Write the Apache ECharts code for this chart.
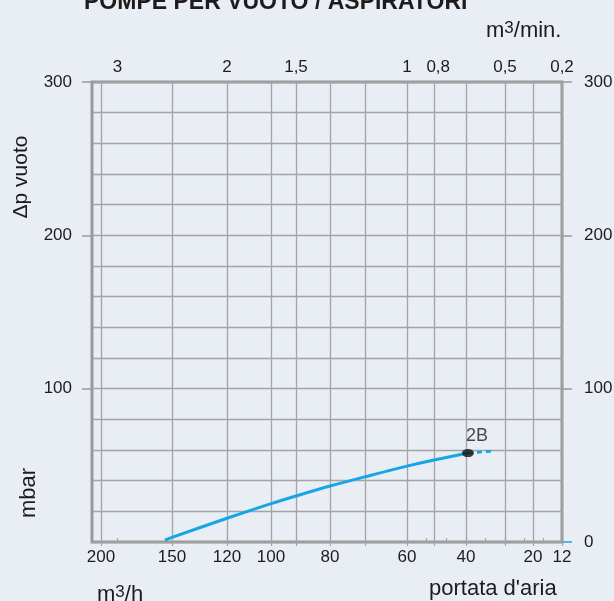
<!DOCTYPE html>
<html><head><meta charset="utf-8">
<script src="https://cdn.jsdelivr.net/npm/echarts@6/dist/echarts.min.js"></script>
<style>html,body{margin:0;padding:0;background:#e9eef5;}#c{width:614px;height:601px;}</style>
</head><body><div id="c"></div>
<script>
// ---------------- data ----------------
const chartTitle = 'POMPE PER VUOTO / ASPIRATORI';
// pump curve: air flow (m3/h) vs vacuum (mbar)
const flowM3h    = [155, 150, 120, 100, 90, 80, 70, 60, 50, 39.5];
const vacuumMbar = [1.2, 3, 15.5, 25, 30, 36.5, 42.5, 49.5, 53.5, 58];
// marked working point
const pointName = '2B';
const pointFlow = [39.5];
const pointVac  = [58];
// dashed continuation after the point
const extFlow = [39.5, 33];
const extVac  = [58, 59.3];
// axis ticks / labels
const bottomLabels = [200, 150, 120, 100, 80, 60, 40, 20, 12];
const bottomGrid   = [200, 150, 120, 100, 90, 80, 70, 60, 50, 40, 30, 20, 12];
const topLabels    = [3, 2, 1.5, 1, 0.8, 0.5, 0.2];
const topTicks     = [3, 2, 1.5, 1, 0.9, 0.8, 0.7, 0.6, 0.5, 0.4, 0.3, 0.2];
const yLabelsLeft  = [100, 200, 300];
const yLabelsRight = [0, 100, 200, 300];

// ------------- scale calibration of the original (non-uniform) flow axes -------------
const AXIS_RUN = 470;
const flowStops = [[200,9],[150,80],[120,135],[100,179],[90,204],[80,238],[70,273],[60,315],[50,342],[40,374],[30,413],[20,441],[12,470]];
const minStops  = [[3,25.5],[2,135],[1.5,204],[1,315],[0.5,413],[0.2,470]];
function piecewise(stops){
  return function(v){
    for (let i = 0; i < stops.length - 1; i++) {
      const a = stops[i], b = stops[i+1];
      if (v <= a[0] && v >= b[0]) return a[1] + (a[0]-v)/(a[0]-b[0])*(b[1]-a[1]);
    }
    const a = v > stops[0][0] ? stops[0] : stops[stops.length-2];
    const b = v > stops[0][0] ? stops[1] : stops[stops.length-1];
    return a[1] + (a[0]-v)/(a[0]-b[0])*(b[1]-a[1]);
  };
}
const flowPos = piecewise(flowStops);
const minPos  = piecewise(minStops);
const key = v => Number(v).toFixed(2);
const bottomMap = {}; bottomLabels.forEach(v => bottomMap[key(flowPos(v))] = String(v));
const topMap = {};    topLabels.forEach(v => topMap[key(minPos(v))] = v);

const gray = '#a4a4a4', border = '#999999', txt = '#1e1b1c', blue = '#16a6e4';
const font = '"Liberation Sans", Arial, Helvetica, sans-serif';
const tickFont = 17;

const chart = echarts.init(document.getElementById('c'), null, {renderer: 'canvas'});
const option = {
  backgroundColor: '#e9eef5',
  animation: false,
  textStyle: {fontFamily: font},
  grid: {left: 92, top: 82, width: AXIS_RUN, height: 460, show: true, borderColor: border, borderWidth: 3,
         backgroundColor: 'transparent', containLabel: false, outerBoundsMode: 'none'},
  xAxis: [
    {type: 'value', position: 'bottom', min: 0, max: AXIS_RUN,
     axisLine: {show: false},
     axisTick: {show: true, customValues: bottomGrid.map(flowPos), length: 4, lineStyle: {color: gray, width: 1.2}},
     axisLabel: {customValues: bottomLabels.map(flowPos), formatter: v => bottomMap[key(v)] || '',
                 fontSize: tickFont, color: txt, margin: 7, fontFamily: font},
     splitLine: {show: true, lineStyle: {color: gray, width: 1.3}}},
    {type: 'value', position: 'top', min: 0, max: AXIS_RUN,
     axisLine: {show: false},
     axisTick: {show: true, customValues: topTicks.map(minPos), length: 4, lineStyle: {color: gray, width: 1.2}},
     axisLabel: {customValues: topLabels.map(minPos),
                 formatter: v => { const t = topMap[key(v)]; if (t === undefined) return '';
                                   const s = String(t).replace('.', ',');
                                   return t === 0.8 ? '{s|' + s + '}' : s; },
                 rich: {s: {padding: [0, 16, 0, 0], fontSize: tickFont, color: txt, fontFamily: font}},
                 fontSize: tickFont, color: txt, margin: 6, fontFamily: font},
     splitLine: {show: false}}
  ],
  yAxis: [
    {type: 'value', min: 0, max: 300, interval: 20, position: 'left',
     axisLine: {show: false}, axisTick: {show: false}, axisLabel: {show: false},
     splitLine: {show: true, lineStyle: {color: gray, width: 1.3}}},
    {type: 'value', min: 0, max: 300, position: 'left',
     axisLine: {show: false},
     axisTick: {show: true, customValues: yLabelsLeft, length: 10, lineStyle: {color: border, width: 1.5}},
     axisLabel: {customValues: yLabelsLeft, fontSize: tickFont, color: txt, margin: 20, fontFamily: font},
     splitLine: {show: false}},
    {type: 'value', min: 0, max: 300, position: 'right',
     axisLine: {show: false},
     axisTick: {show: true, customValues: [100, 200, 300], length: 10, lineStyle: {color: border, width: 1.5}},
     axisLabel: {customValues: yLabelsRight, fontSize: tickFont, color: txt, margin: 22, fontFamily: font},
     splitLine: {show: false}},
    {type: 'value', min: 0, max: 300, position: 'right',
     axisLine: {show: false},
     axisTick: {show: true, customValues: [0], length: 10, lineStyle: {color: blue, width: 1.5}},
     axisLabel: {show: false}, splitLine: {show: false}}
  ],
  series: [
    {type: 'line', xAxisIndex: 0, yAxisIndex: 0, z: 3,
     data: flowM3h.map((f, i) => [flowPos(f), vacuumMbar[i]]),
     smooth: 0.3, showSymbol: false, lineStyle: {color: blue, width: 3}},
    {type: 'line', xAxisIndex: 0, yAxisIndex: 0, z: 3,
     data: extFlow.map((f, i) => [flowPos(f), extVac[i]]),
     showSymbol: false, lineStyle: {color: blue, width: 2.8, type: [5, 4]}},
    {type: 'scatter', xAxisIndex: 0, yAxisIndex: 0, z: 5,
     data: pointFlow.map((f, i) => [flowPos(f), pointVac[i]]),
     symbol: 'circle', symbolSize: [12, 8], itemStyle: {color: '#111'},
     label: {show: true, formatter: pointName, position: 'top', distance: 4, offset: [9, 0],
             fontSize: 18, color: txt, fontFamily: font}}
  ],
  graphic: [
    {type: 'text', x: 84, y: 2.6, style: {text: chartTitle, fontSize: 23, fontWeight: 'bold', fontFamily: font,
      fill: txt, align: 'left', verticalAlign: 'middle'}},
    {type: 'text', x: 486, y: 20, style: {text: '{a|m}{b|3}{a|/min.}', verticalAlign: 'top', align: 'left',
      rich: {a: {fontSize: 22, lineHeight: 22, fontFamily: font, fill: txt, color: txt},
             b: {fontSize: 17, lineHeight: 16, verticalAlign: 'top', fontFamily: font, fill: txt, color: txt}}}},
    {type: 'text', x: 97, y: 583.5, style: {text: '{a|m}{b|3}{a|/h}', verticalAlign: 'top', align: 'left',
      rich: {a: {fontSize: 22, lineHeight: 22, fontFamily: font, fill: txt, color: txt},
             b: {fontSize: 17, lineHeight: 16, verticalAlign: 'top', fontFamily: font, fill: txt, color: txt}}}},
    {type: 'text', x: 429, y: 578, style: {text: "portata d'aria", fontSize: 22, lineHeight: 22, fontFamily: font,
      fill: txt, align: 'left', verticalAlign: 'top'}},
    {type: 'text', x: 21.5, y: 177, rotation: Math.PI / 2, style: {text: 'Δp vuoto', fontSize: 21, fontFamily: font,
      fill: txt, align: 'center', verticalAlign: 'middle'}},
    {type: 'text', x: 29, y: 493, rotation: Math.PI / 2, style: {text: 'mbar', fontSize: 22, fontFamily: font,
      fill: txt, align: 'center', verticalAlign: 'middle'}}
  ]
};
chart.setOption(option);
</script>
</body></html>
